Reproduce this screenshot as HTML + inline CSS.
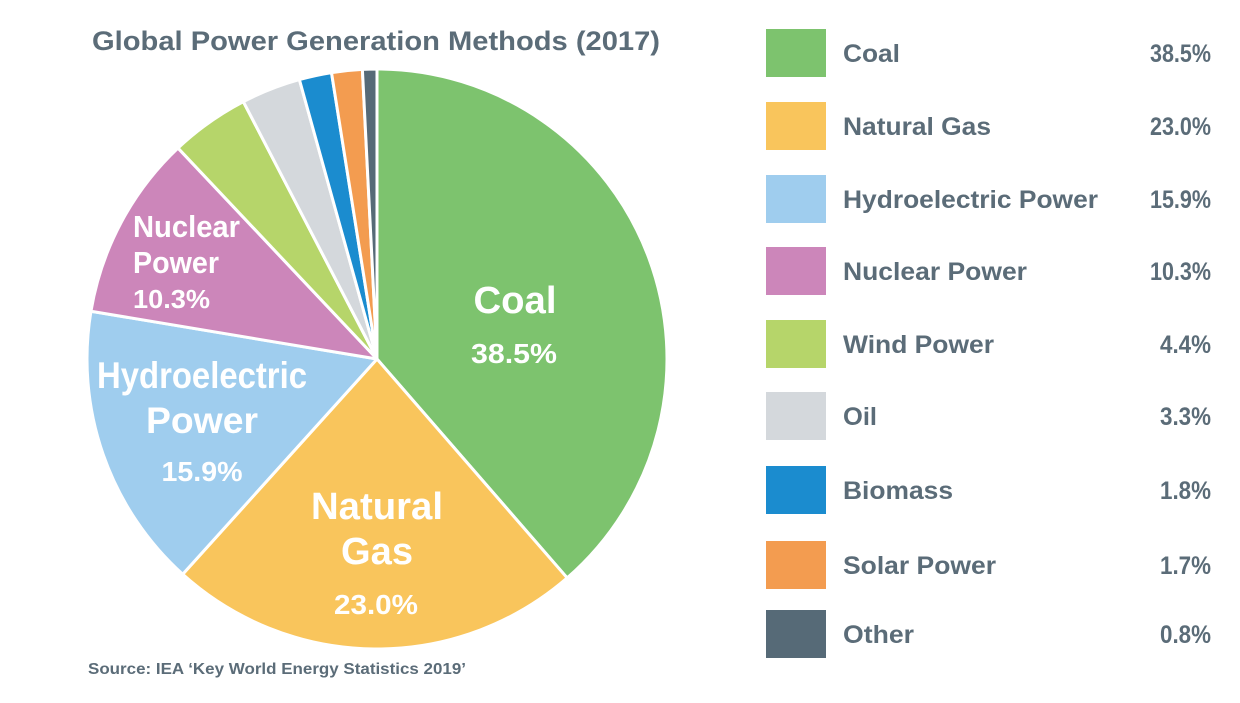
<!DOCTYPE html>
<html><head><meta charset="utf-8">
<style>
body{margin:0;background:#fff;width:1240px;height:698px;overflow:hidden;font-family:"Liberation Sans",Arial,sans-serif;}
svg text{font-family:"Liberation Sans",Arial,sans-serif;font-weight:bold;}
</style></head><body>
<svg id="s" width="1240" height="698" viewBox="0 0 1240 698">
<text x="92" y="50" font-size="27" fill="#5b6c78" textLength="568" lengthAdjust="spacingAndGlyphs">Global Power Generation Methods (2017)</text>
<text x="88" y="674" font-size="16" fill="#5b6c78" textLength="378" lengthAdjust="spacingAndGlyphs">Source: IEA ‘Key World Energy Statistics 2019’</text>
<g id="pie"></g>
<g fill="#fff" text-anchor="middle" lengthAdjust="spacingAndGlyphs">
<text x="515" y="313" font-size="38" textLength="83" lengthAdjust="spacingAndGlyphs">Coal</text>
<text x="514" y="363" font-size="28" textLength="86" lengthAdjust="spacingAndGlyphs">38.5%</text>
<text x="377" y="519" font-size="38" textLength="132" lengthAdjust="spacingAndGlyphs">Natural</text>
<text x="377" y="564" font-size="38" textLength="72" lengthAdjust="spacingAndGlyphs">Gas</text>
<text x="376" y="614" font-size="28" textLength="84" lengthAdjust="spacingAndGlyphs">23.0%</text>
<text x="202" y="388" font-size="37" textLength="210" lengthAdjust="spacingAndGlyphs">Hydroelectric</text>
<text x="202" y="433" font-size="37" textLength="112" lengthAdjust="spacingAndGlyphs">Power</text>
<text x="202" y="481" font-size="28" textLength="81" lengthAdjust="spacingAndGlyphs">15.9%</text>
</g>
<g fill="#fff">
<text x="133" y="237" font-size="31" textLength="107" lengthAdjust="spacingAndGlyphs">Nuclear</text>
<text x="133" y="273" font-size="31" textLength="86" lengthAdjust="spacingAndGlyphs">Power</text>
<text x="133" y="308" font-size="26" textLength="77" lengthAdjust="spacingAndGlyphs">10.3%</text>
</g>
<g id="leg" font-size="25" fill="#5b6c78"></g>
</svg>
<script>
var d=[["Coal",38.5,"#7dc36e",57],["Natural Gas",23.0,"#f9c55c",148],["Hydroelectric Power",15.9,"#9fcdee",255],["Nuclear Power",10.3,"#cc86ba",184],["Wind Power",4.4,"#b6d56a",151],["Oil",3.3,"#d4d8dc",34],["Biomass",1.8,"#1b8ccf",110],["Solar Power",1.7,"#f39c50",153],["Other",0.8,"#566a77",71]];
var tot=0;d.forEach(function(e){tot+=e[1]});
var cx=377,cy=359,r=290,a=0,h="";
d.forEach(function(e){var a2=a+e[1]/tot*2*Math.PI;
var x1=cx+r*Math.sin(a),y1=cy-r*Math.cos(a),x2=cx+r*Math.sin(a2),y2=cy-r*Math.cos(a2);
h+='<path d="M'+cx+','+cy+'L'+x1+','+y1+'A'+r+','+r+' 0 '+((a2-a)>Math.PI?1:0)+' 1 '+x2+','+y2+'Z" fill="'+e[2]+'" stroke="#fff" stroke-width="3" stroke-linejoin="round"/>';a=a2;});
document.getElementById("pie").innerHTML=h;
var ys=[53,126,199,271,344,416,490,565,634],g="";
d.forEach(function(e,i){var y=ys[i];var v=e[1].toFixed(1)+'%';var vw=v.length==5?61:51;
g+='<rect x="766" y="'+(y-24)+'" width="60" height="48" fill="'+e[2]+'"/>';
g+='<text x="843" y="'+(y+9)+'" textLength="'+e[3]+'" lengthAdjust="spacingAndGlyphs">'+e[0]+'</text>';
g+='<text x="'+(1211-vw)+'" y="'+(y+9)+'" textLength="'+vw+'" lengthAdjust="spacingAndGlyphs">'+v+'</text>';});
document.getElementById("leg").innerHTML=g;
</script>
</body></html>
